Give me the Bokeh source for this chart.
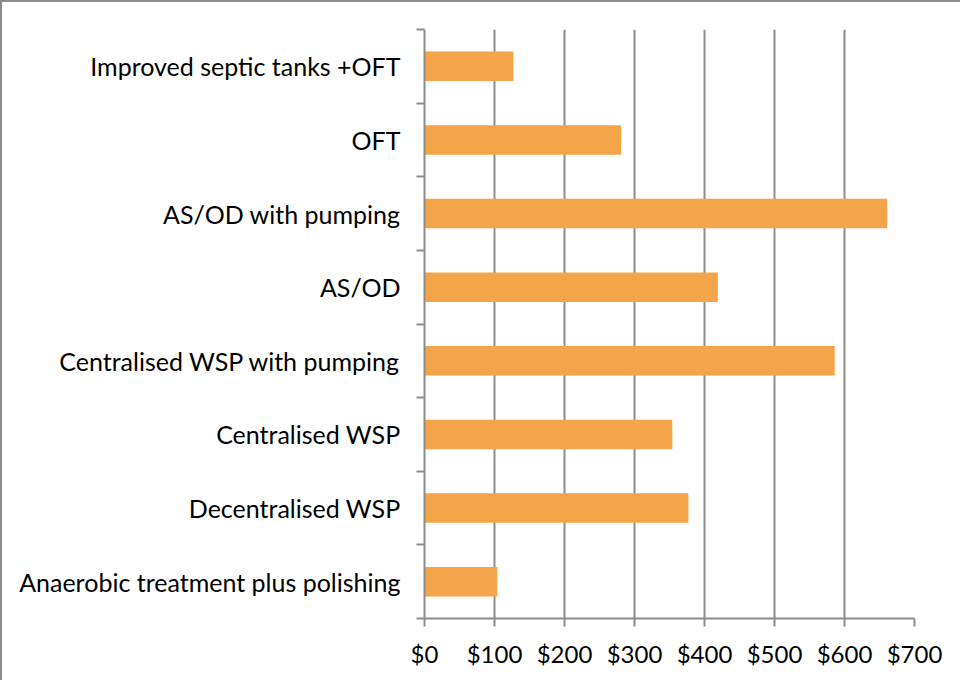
from bokeh.plotting import figure
from bokeh.models import FixedTicker, Range1d, ColumnDataSource
from bokeh.embed import file_html
from bokeh.resources import INLINE

categories = [
    "Anaerobic treatment plus polishing",
    "Decentralised WSP",
    "Centralised WSP",
    "Centralised WSP with pumping",
    "AS/OD",
    "AS/OD with pumping",
    "OFT",
    "Improved septic tanks +OFT",
]
costs = [104, 377, 354, 586, 419, 661, 281, 127]
x_ticks = [0, 100, 200, 300, 400, 500, 600, 700]
x_tick_labels = ["$0", "$100", "$200", "$300", "$400", "$500", "$600", "$700"]

n = len(categories)
centers = [i + 0.5 for i in range(n)]
src = ColumnDataSource(dict(y=centers, cost=costs, cat=categories))

W, H = 960, 680
p = figure(width=W, height=H, output_backend="svg", toolbar_location=None,
           x_range=Range1d(0, 700), y_range=Range1d(0, n),
           min_border_left=422, min_border_right=48, min_border_top=27, min_border_bottom=64)
p.styles = {"border-top": "2px solid #8c8c8c", "border-left": "2px solid #8c8c8c"}
p.outline_line_color = None
p.background_fill_color = "white"
p.border_fill_color = "white"

p.hbar(y="y", right="cost", left=0, height=0.4, source=src,
       fill_color="#F4A54A", line_color=None)

# x axis
p.xaxis.ticker = FixedTicker(ticks=x_ticks, minor_ticks=[])
p.xaxis.major_label_overrides = {t: l for t, l in zip(x_ticks, x_tick_labels)}
p.xaxis.axis_line_color = "#8c8c8c"
p.xaxis.axis_line_width = 2
p.xaxis.major_tick_line_color = "#8c8c8c"
p.xaxis.major_tick_line_width = 2
p.xaxis.major_tick_in = 0
p.xaxis.major_tick_out = 8
p.xaxis.minor_tick_line_color = None
p.xaxis.major_label_text_font = "Lato"
p.xaxis.major_label_text_font_size = "24px"
p.xaxis.major_label_text_color = "black"
p.xaxis.major_label_standoff = 12

# y axis: labels at category centres, ticks at category boundaries
p.yaxis.ticker = FixedTicker(ticks=centers, minor_ticks=list(range(n + 1)))
p.yaxis.major_label_overrides = {c: l for c, l in zip(centers, categories)}
p.yaxis.axis_line_color = "#8c8c8c"
p.yaxis.axis_line_width = 2
p.yaxis.major_tick_line_color = None
p.yaxis.minor_tick_line_color = "#8c8c8c"
p.yaxis.minor_tick_line_width = 2
p.yaxis.minor_tick_in = 0
p.yaxis.minor_tick_out = 8
p.yaxis.major_label_text_font = "Lato"
p.yaxis.major_label_text_font_size = "25px"
p.yaxis.major_label_text_color = "black"
p.yaxis.major_label_standoff = 16

p.xgrid.ticker = FixedTicker(ticks=x_ticks)
p.xgrid.grid_line_color = "#8c8c8c"
p.xgrid.grid_line_width = 2
p.ygrid.grid_line_color = None

open("out.html", "w").write(file_html(p, INLINE))
